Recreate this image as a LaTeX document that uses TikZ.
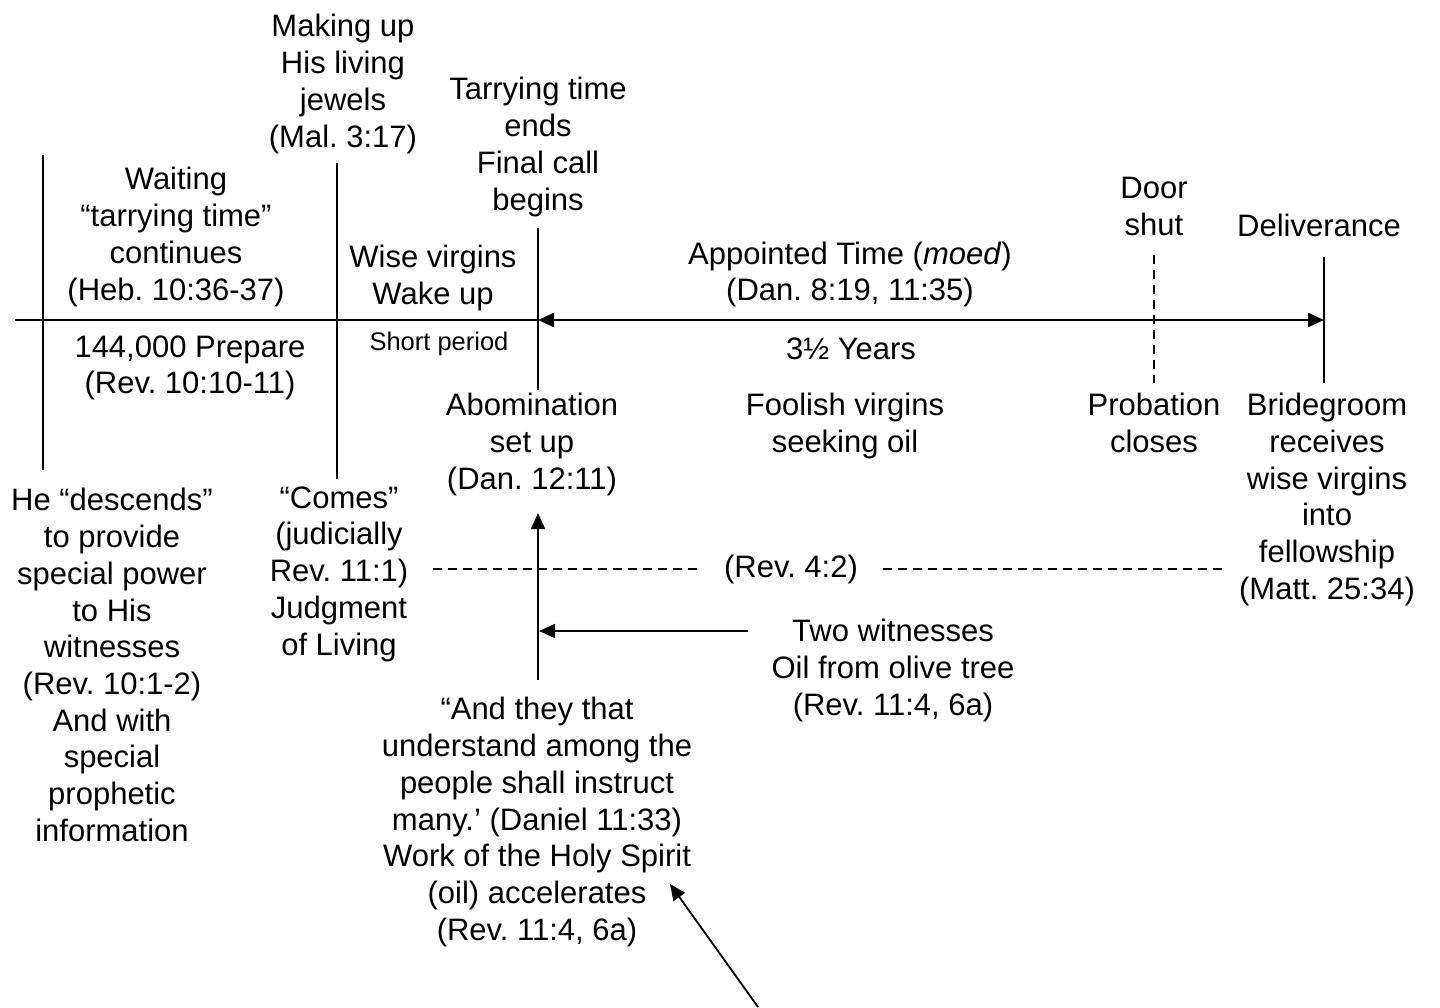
\documentclass[tikz,border=0pt]{standalone}
\usepackage{fontspec}
\setmainfont{Liberation Sans}
\usetikzlibrary{arrows.meta}
\frenchspacing
\begin{document}
\begin{tikzpicture}[x=1pt,y=-1pt,
  txt/.style={align=center,inner sep=0pt,font=\fontsize{31}{36.7}\selectfont},
  smalltxt/.style={align=center,inner sep=0pt,font=\fontsize{25.5}{29}\selectfont},
  tl/.style={line width=1.8pt},
  mainl/.style={line width=2.4pt},
  tip/.style={-{Triangle[length=16pt,width=14pt]}},
  dtip/.style={{Triangle[length=16pt,width=14pt]}-{Triangle[length=16pt,width=14pt]}},
  dashl/.style={line width=1.4pt,dash pattern=on 9pt off 6pt}]
\useasboundingbox (0,0) rectangle (1440,1007);
\fill[white] (0,0) rectangle (1440,1007);

% texts
\node[txt] (waiting) at (176,237) {Waiting\\“tarrying time”\\continues\\(Heb. 10:36-37)};
\node[txt] (making) at (343,84) {Making up\\His living\\jewels\\(Mal. 3:17)};
\node[txt] (tarry) at (538,147) {Tarrying time\\ends\\Final call\\begins};
\node[txt] (wise) at (433,278) {Wise virgins\\Wake up};
\node[txt] (appointed) at (850,274.5) {Appointed Time (\textit{moed})\\(Dan. 8:19, 11:35)};
\node[txt] (door) at (1154,206.5) {Door\\shut};
\node[txt] (deliver) at (1319,225) {Deliverance};
\node[txt] (prepare) at (190,368) {144,000 Prepare\\(Rev. 10:10-11)};
\node[smalltxt] (short) at (439,344) {Short period};
\node[txt] (years) at (851,349) {3½ Years};
\node[txt] (abom) at (532,444.5) {Abomination\\set up\\(Dan. 12:11)};
\node[txt] (foolish) at (845,426) {Foolish virgins\\seeking oil};
\node[txt] (probation) at (1154,423) {Probation\\closes};
\node[txt] (bride) at (1327,499.5) {Bridegroom\\receives\\wise virgins\\into\\fellowship\\(Matt. 25:34)};
\node[txt] (descends) at (112,665) {He “descends”\\to provide\\special power\\to His\\witnesses\\(Rev. 10:1-2)\\And with\\special\\prophetic\\information};
\node[txt] (comes) at (339,574) {“Comes”\\(judicially\\Rev. 11:1)\\Judgment\\of Living};
\node[txt] (rev42) at (791,569) {(Rev. 4:2)};
\node[txt] (twowit) at (893,670.5) {Two witnesses\\Oil from olive tree\\(Rev. 11:4, 6a)};
\node[txt] (understand) at (537,822) {“And they that\\understand among the\\people shall instruct\\many.’ (Daniel 11:33)\\Work of the Holy Spirit\\(oil) accelerates\\(Rev. 11:4, 6a)};

% timeline coordinates
\coordinate (lstart) at (15,320);
\coordinate (ta) at (538,320);
\coordinate (tb) at (1324,320);
\coordinate (v1t) at (43,155);   \coordinate (v1b) at (43,470);
\coordinate (v2t) at (337,163);  \coordinate (v2b) at (337,479);
\coordinate (v3t) at (538,228);  \coordinate (v3b) at (538,390);
\coordinate (v4t) at (1324,257); \coordinate (v4b) at (1324,383);
\coordinate (d1t) at (1154,255); \coordinate (d1b) at (1154,383);
\coordinate (h1a) at (433,569);  \coordinate (h1b) at (700,569);
\coordinate (h2a) at (883,569);  \coordinate (h2b) at (1222,569);
\coordinate (upa) at (538,680);  \coordinate (upb) at (538,513);
\coordinate (wa) at (748,631);   \coordinate (wb) at (539,631);
\coordinate (diaga) at (758,1007); \coordinate (diagb) at (670,884);

\draw[mainl] (lstart) -- (ta);
\draw[mainl,dtip] (ta) -- (tb);
\draw[tl] (v1t) -- (v1b);
\draw[tl] (v2t) -- (v2b);
\draw[tl] (v3t) -- (v3b);
\draw[tl] (v4t) -- (v4b);
\draw[dashl] (d1t) -- (d1b);
\draw[dashl] (h1a) -- (h1b);
\draw[dashl] (h2a) -- (h2b);
\draw[tl,tip] (upa) -- (upb);
\draw[tl,tip] (wa) -- (wb);
\draw[tl,tip] (diaga) -- (diagb);
\end{tikzpicture}
\end{document}
